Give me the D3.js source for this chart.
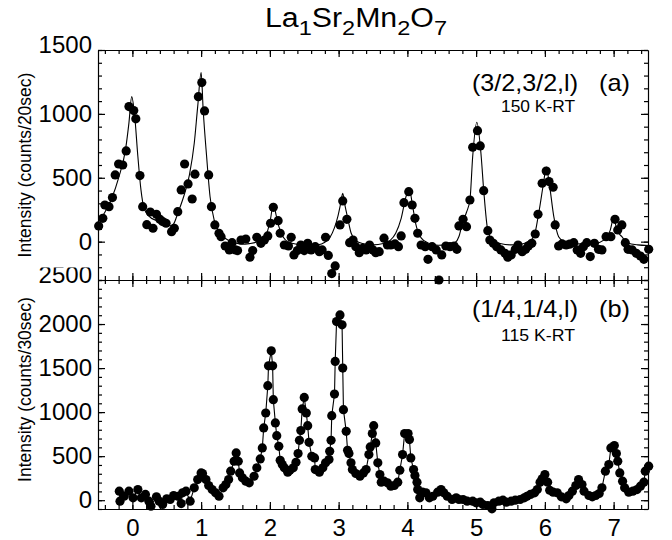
<!DOCTYPE html>
<html><head><meta charset="utf-8">
<script src="https://cdn.jsdelivr.net/npm/d3@7"></script>
<style>
body{margin:0;background:#fff}
text{font-family:"Liberation Sans",Arial,Helvetica,sans-serif;fill:#000}
</style>
</head><body>
<svg id="chart" width="672" height="540"></svg>
<script>
// ---------- data ----------
const titleParts = [["La",false],["1",true],["Sr",false],["2",true],["Mn",false],["2",true],["O",false],["7",true]];

// panel (a): measured points
const topL = [-0.49,-0.43,-0.40,-0.34,-0.29,-0.25,-0.20,-0.14,-0.09,-0.05,0.02,0.05,0.11,0.15,0.21,0.26,0.30,0.35,0.40,0.44,0.49,0.57,0.61,0.66,0.71,0.76,0.81,0.87,0.91,0.96,1.01,1.05,1.11,1.15,1.20,1.26,1.29,1.35,1.41,1.45,1.50,1.53,1.58,1.65,1.71,1.75,1.81,1.87,1.92,1.97,2.01,2.05,2.12,2.15,2.21,2.27,2.31,2.35,2.40,2.45,2.50,2.55,2.60,2.66,2.72,2.76,2.81,2.85,2.90,2.95,3.02,3.06,3.12,3.16,3.21,3.25,3.30,3.35,3.40,3.45,3.50,3.54,3.59,3.66,3.71,3.76,3.82,3.87,3.91,3.95,4.02,4.07,4.11,4.15,4.20,4.26,4.30,4.36,4.42,4.46,4.50,4.56,4.62,4.68,4.72,4.75,4.81,4.86,4.91,4.95,5.02,5.06,5.11,5.17,5.20,5.25,5.30,5.36,5.42,5.46,5.51,5.57,5.61,5.67,5.72,5.76,5.81,5.86,5.90,5.96,6.02,6.06,6.12,6.15,6.20,6.25,6.31,6.36,6.42,6.47,6.52,6.56,6.61,6.66,6.72,6.78,6.83,6.89,6.96,7.02,7.06,7.12,7.17,7.21,7.27,7.33,7.39,7.44,7.51];
const topCounts = [123,183,287,274,345,522,608,600,710,1057,1026,961,517,274,133,232,105,214,175,157,144,78,105,235,405,608,452,334,528,1135,1245,1023,522,274,131,66,39,-34,-65,-8,-65,-70,13,21,-122,-70,34,-13,13,45,144,269,164,66,-26,-34,34,-104,-70,-26,-70,-13,-65,-39,-78,-65,34,-108,-250,-190,131,319,175,-8,13,-39,-86,-52,-65,-26,-65,-86,-78,27,-26,-26,-18,-39,45,305,391,287,183,66,-26,-39,-138,-39,-65,-300,-104,-34,-39,-34,-60,123,175,117,326,739,869,749,399,86,13,-13,-39,-65,-91,-122,-104,-60,-26,-78,-60,-34,-13,60,214,457,553,470,426,131,-34,-18,-26,-20,-8,-65,-91,-39,-8,-117,-13,-60,-65,39,39,175,92,131,-8,-60,-65,-91,-112,-138,-60];

// panel (a): fitted curve, read point by point
const fitL = [-0.5,-0.4,-0.3,-0.2,-0.1,-0.05,-0.01,0.03,0.08,0.125,0.17,0.24,0.35,0.45,0.55,0.6,0.66,0.73,0.83,0.9,0.95,1.0,1.03,1.08,1.13,1.19,1.25,1.32,1.4,1.5,1.6,1.7,1.8,1.9,1.97,2.01,2.05,2.09,2.13,2.19,2.28,2.4,2.55,2.7,2.8,2.87,2.94,2.99,3.03,3.06,3.09,3.13,3.18,3.25,3.35,3.5,3.65,3.75,3.83,3.91,3.98,4.03,4.07,4.12,4.2,4.3,4.45,4.6,4.7,4.75,4.8,4.86,4.91,4.95,5.01,5.07,5.11,5.17,5.24,5.35,5.5,5.65,5.75,5.84,5.91,5.98,6.02,6.06,6.13,6.2,6.28,6.4,6.55,6.73,6.85,6.95,7.0,7.05,7.12,7.2,7.35,7.5];
const fitCounts = [150,230,340,500,720,930,1135,1005,666,405,262,200,165,140,125,140,222,326,522,770,1057,1323,1031,666,352,170,90,39,10,-10,-20,-15,-5,20,90,180,300,210,120,39,-5,-20,-28,-25,-5,30,110,200,300,379,290,190,70,10,-15,-25,-15,10,66,183,352,410,300,144,30,-10,-28,-25,-5,40,144,230,326,666,935,692,404,88,10,-15,-25,-20,0,39,222,457,583,470,196,39,0,-15,-18,-15,10,88,183,88,39,-8,-25,-30];

// panel (b): measured points (joined by a line)
const botL = [-0.19,-0.18,-0.12,-0.05,0.01,0.08,0.13,0.19,0.24,0.27,0.35,0.39,0.44,0.50,0.55,0.60,0.66,0.71,0.73,0.78,0.84,0.90,0.95,1.00,1.02,1.07,1.11,1.16,1.21,1.26,1.32,1.36,1.40,1.43,1.48,1.51,1.54,1.56,1.60,1.65,1.70,1.77,1.81,1.86,1.89,1.91,1.94,1.97,1.98,2.02,2.04,2.05,2.08,2.10,2.13,2.15,2.18,2.21,2.26,2.29,2.34,2.38,2.41,2.43,2.45,2.47,2.50,2.53,2.55,2.57,2.61,2.65,2.66,2.72,2.77,2.81,2.86,2.87,2.89,2.90,2.94,2.95,2.97,3.02,3.05,3.06,3.07,3.11,3.13,3.15,3.18,3.20,3.25,3.31,3.36,3.40,3.44,3.46,3.49,3.51,3.54,3.57,3.60,3.62,3.66,3.71,3.76,3.81,3.86,3.89,3.93,3.96,4.01,4.03,4.05,4.09,4.11,4.14,4.15,4.18,4.22,4.27,4.32,4.37,4.44,4.49,4.53,4.58,4.65,4.71,4.75,4.81,4.87,4.95,5.00,5.06,5.10,5.17,5.23,5.26,5.33,5.39,5.44,5.51,5.57,5.64,5.70,5.74,5.79,5.85,5.89,5.93,5.96,6.00,6.04,6.07,6.12,6.18,6.24,6.31,6.35,6.40,6.45,6.49,6.54,6.57,6.64,6.69,6.74,6.79,6.83,6.88,6.93,6.96,7.01,7.04,7.06,7.09,7.13,7.16,7.22,7.28,7.34,7.39,7.44,7.46,7.51];
const botCounts = [102,-11,45,102,27,121,27,65,-11,-68,38,-11,-49,16,8,53,45,-38,84,102,-11,140,234,310,302,234,167,121,84,45,140,178,234,329,442,537,442,310,254,216,197,272,367,469,593,820,990,1300,1526,1696,1526,1141,877,733,612,453,405,367,317,340,367,431,529,680,790,1036,1167,990,846,657,499,480,348,317,367,424,461,555,680,960,1205,1575,2028,2104,1991,1500,1028,782,567,529,424,348,303,272,310,348,518,605,756,846,650,424,291,204,216,197,159,167,204,340,518,756,756,688,480,348,280,204,121,27,91,84,27,45,91,121,84,45,8,27,8,8,-11,-11,-30,-23,-49,-60,-98,-30,-11,0,-23,-11,0,8,27,45,65,84,121,204,242,291,204,113,91,84,38,16,53,102,167,234,178,102,53,38,53,76,140,329,405,593,620,529,442,310,216,140,91,102,121,159,204,329,386];

// axes ticks and labels
const xTickValues = [0,1,2,3,4,5,6,7];
const xMinorValues = d3.range(-4,75,2).map(v=>v/10);
const topYTicks = [0,500,1000,1500];
const topYMinor = d3.range(-300,1501,100);
const botYTicks = [0,500,1000,1500,2000,2500];
const botYMinor = d3.range(-100,2501,100);
const topYLabel = "Intensity (counts/20sec)";
const botYLabel = "Intensity (counts/30sec)";
const topNote = ["(3/2,3/2,l)","(a)","150 K-RT"];
const botNote = ["(1/4,1/4,l)","(b)","115 K-RT"];

// ---------- drawing ----------
const svg = d3.select("#chart");
const L = 98, R = 648, T1 = 50, M = 280, B2 = 509;
const x = d3.scaleLinear().domain([-0.5,7.5]).range([L,R]);
const y1 = d3.scaleLinear().domain([-300,1500]).range([M,T1]);
const y2 = d3.scaleLinear().domain([-100,2500]).range([B2,M]);
const FS = 24;

// clip (in tick-local coordinates) for the top label of panel (b)
svg.append("defs").append("clipPath").attr("id","lblclip")
  .append("rect").attr("x",-120).attr("y",-13).attr("width",120).attr("height",40);

function styleAxis(g){
  g.selectAll("path.domain").attr("stroke","#000").attr("stroke-width",1.2);
  g.selectAll(".tick line").attr("stroke","#000").attr("stroke-width",1.2);
  g.selectAll("text").style("font-size",FS+"px").attr("fill","#000");
}

function panel(y, yMajor, yMinor, yTop, yBot, showX, clipTop){
  const g = svg.append("g");
  const minor = [
    [d3.axisLeft(y).tickValues(yMinor), `translate(${L},0)`],
    [d3.axisRight(y).tickValues(yMinor), `translate(${R},0)`],
    [d3.axisTop(x).tickValues(xMinorValues), `translate(0,${yTop})`],
    [d3.axisBottom(x).tickValues(xMinorValues), `translate(0,${yBot})`]
  ];
  minor.forEach(([ax,tr])=>{
    g.append("g").attr("transform",tr)
      .call(ax.tickSize(-4).tickFormat(""))
      .call(s=>s.select(".domain").remove()).call(styleAxis)
      .call(s=>s.selectAll("text").remove());
  });
  // major ticks
  const la = g.append("g").attr("transform",`translate(${L},0)`)
    .call(d3.axisLeft(y).tickValues(yMajor).tickSizeInner(-7).tickSizeOuter(0).tickPadding(6).tickFormat(d3.format("d")))
    .call(styleAxis);
  const maxV = yMajor[yMajor.length-1];
  const topTxt = la.selectAll(".tick").filter(d=>d===maxV).select("text").attr("y",-5);
  if (clipTop) topTxt.attr("clip-path","url(#lblclip)");
  g.append("g").attr("transform",`translate(${R},0)`)
    .call(d3.axisRight(y).tickValues(yMajor).tickSizeInner(-7).tickSizeOuter(0).tickFormat(""))
    .call(styleAxis).call(s=>s.selectAll("text").remove());
  g.append("g").attr("transform",`translate(0,${yTop})`)
    .call(d3.axisTop(x).tickValues(xTickValues).tickSizeInner(-7).tickSizeOuter(0).tickFormat(""))
    .call(styleAxis).call(s=>s.selectAll("text").remove());
  const bx = g.append("g").attr("transform",`translate(0,${yBot})`)
    .call(d3.axisBottom(x).tickValues(xTickValues).tickSizeInner(-7).tickSizeOuter(0).tickPadding(9.5)
      .tickFormat(d3.format("d")))
    .call(styleAxis);
  if (!showX) bx.selectAll("text").remove();
  return g;
}

panel(y1, topYTicks, topYMinor, T1, M, false, false);
panel(y2, botYTicks, botYMinor, M, B2, true, true);

// title
const title = svg.append("text").attr("x",265).attr("y",27)
  .style("font-size","27px").attr("textLength",182).attr("lengthAdjust","spacingAndGlyphs");
let prevSub = false;
titleParts.forEach(([t,sub])=>{
  title.append("tspan").text(t).style("font-size", sub ? "21px" : "27px")
    .attr("dy", sub ? 8 : (prevSub ? -8 : 0));
  prevSub = sub;
});

// y labels
svg.append("text").attr("transform",`translate(31,${(T1+M)/2}) rotate(-90)`)
  .attr("text-anchor","middle").style("font-size","17.5px").text(topYLabel);
svg.append("text").attr("transform",`translate(31,${(M+B2)/2 - 5}) rotate(-90)`)
  .attr("text-anchor","middle").style("font-size","17.5px").text(botYLabel);

// annotations
function note(n, yb, ys){
  svg.append("text").attr("x",472).attr("y",yb).style("font-size","24px")
    .attr("textLength",106).attr("lengthAdjust","spacingAndGlyphs").text(n[0]);
  svg.append("text").attr("x",599).attr("y",yb).style("font-size","24px")
    .attr("textLength",31).attr("lengthAdjust","spacingAndGlyphs").text(n[1]);
  svg.append("text").attr("x",501).attr("y",ys).style("font-size","16.5px")
    .attr("textLength",74).attr("lengthAdjust","spacingAndGlyphs").text(n[2]);
}
note(topNote, 91, 112);
note(botNote, 317, 341);

// panel (a) fit curve and points
const fitData = fitL.map((l,i)=>({l, c:fitCounts[i]}));
svg.append("path").datum(fitData)
  .attr("d", d3.line().x(d=>x(d.l)).y(d=>y1(d.c)).curve(d3.curveMonotoneX))
  .attr("fill","none").attr("stroke","#000").attr("stroke-width",1.1);
const topData = topL.map((l,i)=>({l, c:topCounts[i]}));
svg.append("g").selectAll("circle").data(topData).join("circle")
  .attr("cx",d=>x(d.l)).attr("cy",d=>y1(d.c)).attr("r",4.6).attr("fill","#000");

// panel (b) line and points
const botData = botL.map((l,i)=>({l, c:botCounts[i]}));
svg.append("path").datum(botData)
  .attr("d", d3.line().x(d=>x(d.l)).y(d=>y2(d.c)))
  .attr("fill","none").attr("stroke","#000").attr("stroke-width",1.1);
svg.append("g").selectAll("circle").data(botData).join("circle")
  .attr("cx",d=>x(d.l)).attr("cy",d=>y2(d.c)).attr("r",4.6).attr("fill","#000");
</script>
</body></html>
